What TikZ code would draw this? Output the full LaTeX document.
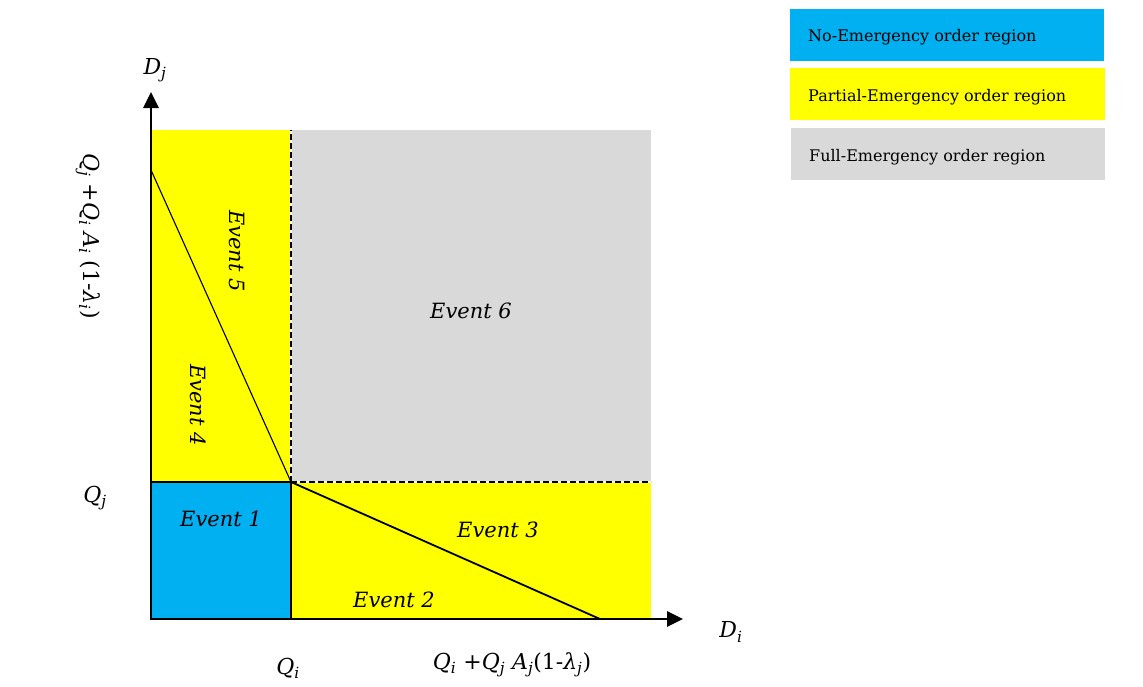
\documentclass[tikz,border=0pt]{standalone}
\usepackage{fontspec}
\setmainfont{DejaVu Serif}
\usetikzlibrary{arrows.meta}
\definecolor{noblue}{HTML}{00B0F0}
\definecolor{partyel}{HTML}{FFFF00}
\definecolor{fullgray}{HTML}{D9D9D9}
\newcommand{\vr}[2]{\textit{#1}\textsubscript{\textit{#2}}}
\begin{document}
\begin{tikzpicture}[x=1pt,y=-1pt,
  evt/.style={font=\itshape\fontsize{21}{24}\selectfont, inner sep=0pt},
  lbl/.style={font=\fontsize{22}{25}\selectfont, inner sep=0pt},
  leg/.style={font=\fontsize{16}{19}\selectfont, inner sep=0pt, anchor=west},
  axis/.style={line width=2.8pt, -{Triangle[length=16pt,width=15pt]}},
  dsh/.style={line width=1.5pt, dash pattern=on 6pt off 3pt},
  thinline/.style={line width=1.1pt}]
\useasboundingbox (0,0) rectangle (1143,686);
% regions
\fill[partyel] (152,130) rectangle (291,482);
\fill[fullgray] (291,130) rectangle (651,482);
\fill[partyel] (291,482) rectangle (651,619);
\fill[noblue] (151,482) rectangle (291,619);
% coordinates
\coordinate (O) at (151,619);
\coordinate (ytip) at (151,92);
\coordinate (xtip) at (683,619);
\coordinate (C) at (291,482);
\coordinate (ya) at (151,170);
\coordinate (xa) at (600,619);
\coordinate (vt) at (291,130);
\coordinate (hr) at (651,482);
% dashed boundaries
\draw[white,line width=2pt] (C) -- (vt);
\draw[dsh] (C) -- (vt);
\draw[white,line width=2pt] (C) -- (hr);
\draw[dsh] (C) -- (hr);
% blue box border
\draw[line width=2.8pt] (151,482) rectangle (291,619);
% diagonals
\draw[thinline] (ya) -- (C);
\draw[line width=1.8pt] (C) -- (xa);
% axes
\draw[axis] (O) -- (ytip);
\draw[axis] (O) -- (xtip);
% events
\node[evt] (e1) at (221,519) {Event 1};
\node[evt] (e2) at (394,600) {Event 2};
\node[evt] (e3) at (498,530) {Event 3};
\node[evt,rotate=-90] (e4) at (198,405) {Event 4};
\node[evt,rotate=-90] (e5) at (237,251) {Event 5};
\node[evt] (e6) at (471,311) {Event 6};
% axis labels
\node[lbl] (dj) at (155,70) {\vr{D}{j}};
\node[lbl] (di) at (731,632) {\vr{D}{i}};
\node[lbl] (qj) at (95,498) {\vr{Q}{j}};
\node[lbl] (qi) at (288,668) {\vr{Q}{i}};
\node[lbl] (qx) at (512,665) {\vr{Q}{i} +\vr{Q}{j} \vr{A}{j}(1-\vr{λ}{j})};
\node[lbl,rotate=-90] (qy) at (88,236) {\vr{Q}{j} +\vr{Q}{i} \vr{A}{i} (1-\vr{λ}{i})};
% legend
\fill[noblue] (790,9) rectangle (1104,61);
\fill[partyel] (790,68) rectangle (1105,120);
\fill[fullgray] (791,128) rectangle (1105,180);
\node[leg] (l1) at (808,37) {No-Emergency order region};
\node[leg] (l2) at (808,97) {Partial-Emergency order region};
\node[leg] (l3) at (809,157) {Full-Emergency order region};
\end{tikzpicture}
\end{document}
